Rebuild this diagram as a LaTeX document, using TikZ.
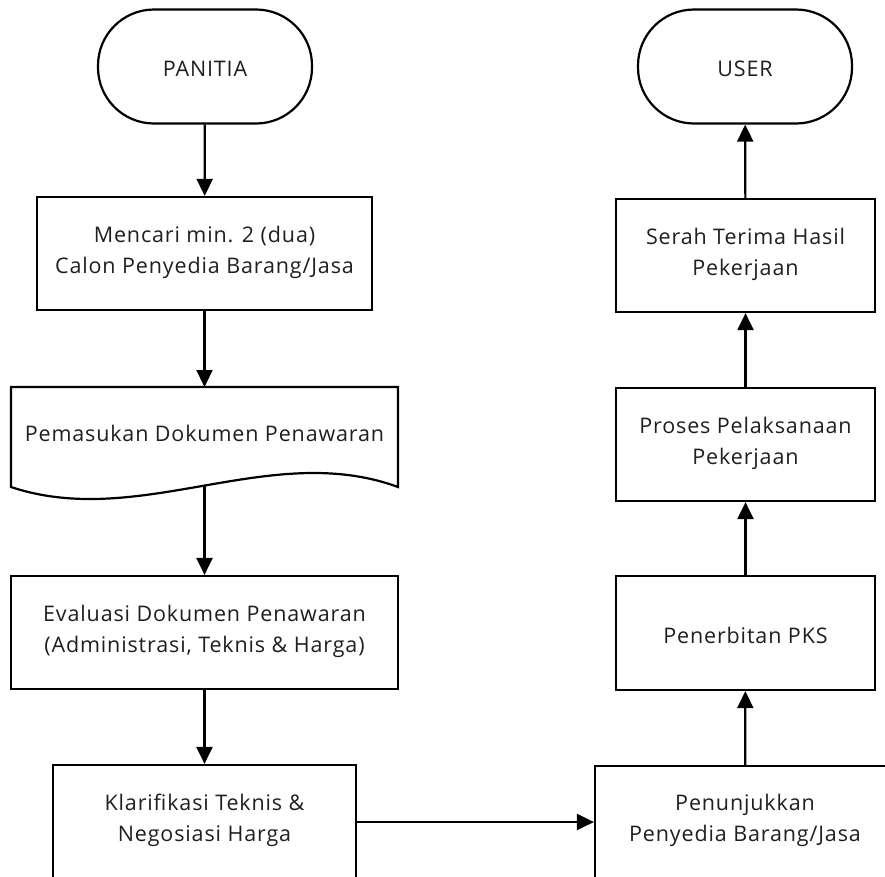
\documentclass[tikz,border=0pt]{standalone}
\usepackage{fontspec}
\setmainfont{Open Sans}[LetterSpace=4]
\usetikzlibrary{arrows.meta}
\newcommand\mytopstrut{\rule{0pt}{28pt}}
\newcommand\mybotstrut{\rule[-8pt]{0pt}{8pt}}
\begin{document}
\begin{tikzpicture}[x=1pt,y=-1pt,
  every node/.style={font=\fontsize{21.5}{31}\selectfont, text=black!88, align=center,
    execute at begin node=\mytopstrut, execute at end node=\mybotstrut},
  procbox/.style={draw=black, line width=2.2pt, rectangle, minimum width=#1, minimum height=113pt, inner sep=0pt},
  termbox/.style={draw=black, line width=2.2pt, rectangle, rounded corners=56pt, minimum width=214pt, minimum height=114pt, inner sep=0pt},
  flow/.style={line width=2.2pt, -{Triangle[length=17pt,width=16pt]}}
]
\clip (0,0) rectangle (885,876);
% left column
\node[termbox] (panitia) at (205,66.5) {PANITIA};
\node[procbox=335pt] (mencari) at (204.5,253.5) {Mencari min. 2 (dua)\\Calon Penyedia Barang/Jasa};
\draw[line width=2.2pt, line join=miter] (11,487) -- (11,387) -- (398,387) -- (398,487)
  .. controls (270,440) and (140,530) .. (11,487) -- cycle;
\node (pemasukan) at (204.5,431) {Pemasukan Dokumen Penawaran};
\coordinate (doctop) at (204.5,387);
\coordinate (docbot) at (204.5,486);
\node[procbox=387pt] (evaluasi) at (204.5,632.5) {Evaluasi Dokumen Penawaran\\(Administrasi, Teknis \& Harga)};
\node[procbox=303pt, minimum height=114pt] (klarifikasi) at (204.5,822) {Klarifikasi Teknis \&\\Negosiasi Harga};
% right column
\node[termbox] (user) at (745,66.5) {USER};
\node[procbox=259pt] (serah) at (745.5,255.5) {Serah Terima Hasil\\Pekerjaan};
\node[procbox=259pt] (proses) at (745.5,444.5) {Proses Pelaksanaan\\Pekerjaan};
\node[procbox=259pt, minimum height=114pt] (penerbitan) at (745.5,633) {Penerbitan PKS};
\node[procbox=300pt, minimum height=112pt] (penunjukkan) at (745,822) {Penunjukkan\\Penyedia Barang/Jasa};
% connectors
\draw[flow] (panitia) -- (mencari);
\draw[flow] (mencari) -- (doctop);
\draw[flow] (docbot) -- (evaluasi);
\draw[flow] (evaluasi) -- (klarifikasi);
\draw[flow] (klarifikasi.east) -- (klarifikasi.east -| penunjukkan.west);
\draw[flow] (penunjukkan) -- (penerbitan);
\draw[flow] (penerbitan) -- (proses);
\draw[flow] (proses) -- (serah);
\draw[flow] (serah) -- (user);
\end{tikzpicture}
\end{document}
